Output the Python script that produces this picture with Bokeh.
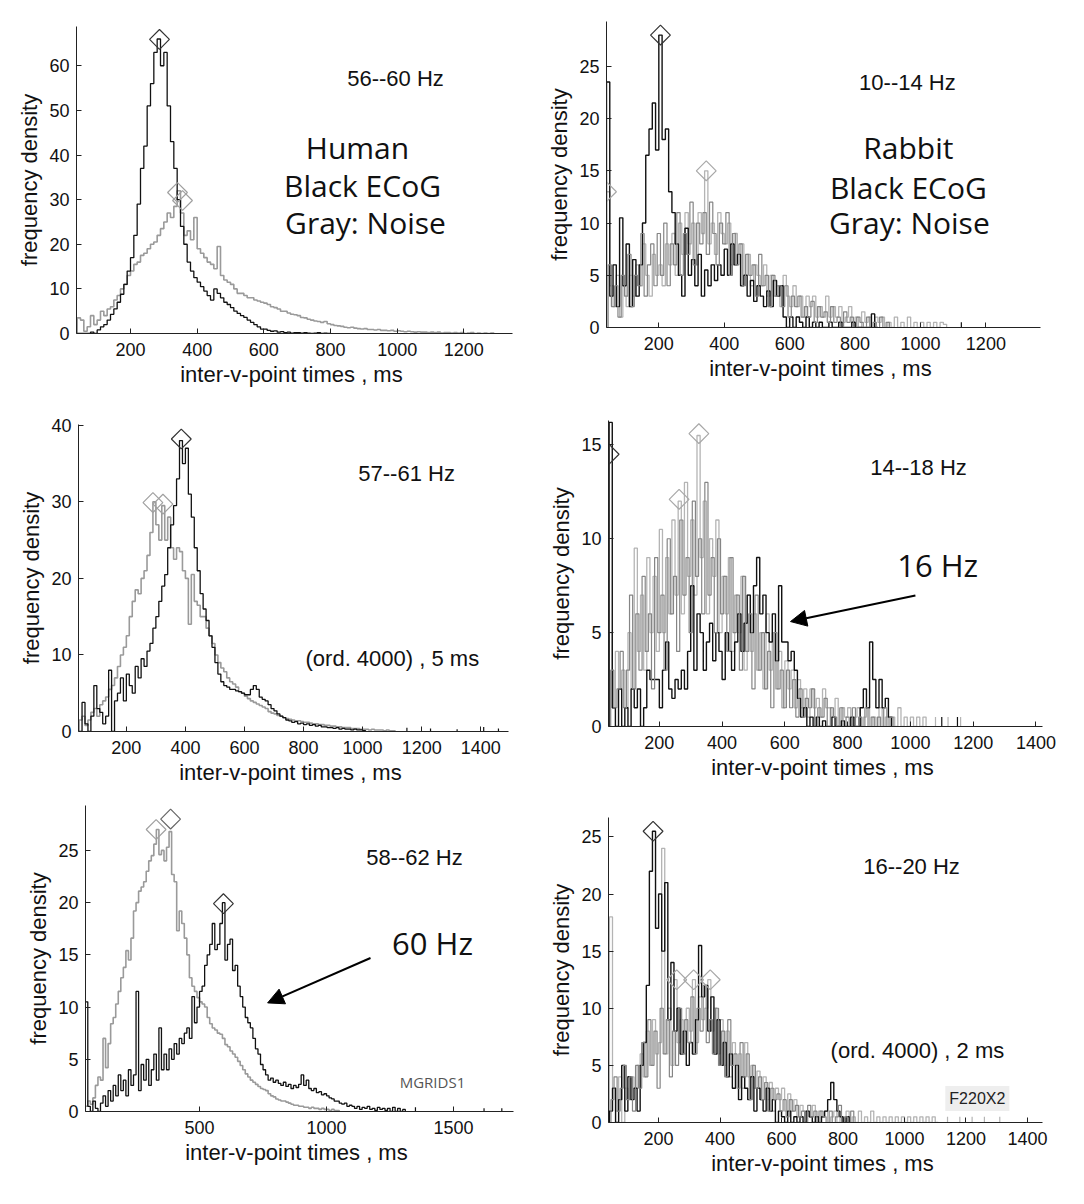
import numpy as np
from bokeh.plotting import figure
from bokeh.layouts import row, column
from bokeh.models import FixedTicker, Label, Arrow, NormalHead, Range1d
from bokeh.embed import file_html
from bokeh.resources import INLINE

BIN_MS = 10

# ---------------- Panel 1: Human 56--60 Hz ----------------
p1_start = 40
p1_black = [0, 0, 0, 0, 0.3, 0, 0.8, 1.5, 2, 3,
            4.3, 5.5, 7, 8.8, 11, 14, 17, 22, 29, 37,
            42, 51, 56, 63, 66, 60, 63, 51, 43, 37,
            30, 24, 20, 16, 14, 12.5, 11.5, 10.5, 9.5, 8.5,
            7.5, 10, 9, 8, 7, 6.5, 5.8, 5, 4.5, 4,
            3.6, 3, 2.5, 2, 1.5, 1, 1, 0.7, 0.5, 0.6,
            0.3, 0.4, 0.2, 0.3, 0.1, 0.2, 0.2, 0.1, 0.2, 0.1,
            0, 0.1, 0.2, 0, 0.1, 0]
p1_gray = [3.5, 3, 0.5, 1.5, 4, 2, 3, 5, 4, 5.5,
           6, 7.5, 8.5, 10, 11, 13, 14, 15.5, 16, 17.5,
           18, 19, 20, 20.5, 22, 23.5, 25, 27, 26, 28.5,
           32, 27, 22, 23, 21, 26, 19, 18, 17, 16,
           15.5, 14.5, 19.5, 13, 12, 11.5, 11, 10, 9, 9,
           8.5, 8, 8, 7.5, 7.3, 7, 6.8, 6.5, 6, 5.8,
           5.5, 5, 5, 4.6, 4.3, 4.2, 4, 3.6, 3.5, 3.2,
           3, 2.8, 2.7, 2.5, 2.7, 2.2, 2, 1.8, 1.7, 1.6,
           1.4, 1.3, 1.4, 1.2, 1.1, 1.0, 1.1, 0.9, 0.9, 0.8,
           0.9, 0.7, 0.7, 0.6, 0.7, 0.5, 0.6, 0.5, 0.4, 0.5,
           0.4, 0.3, 0.4, 0.3, 0.3, 0.2, 0.3, 0.2, 0.3, 0.1,
           0.2, 0.2, 0.1, 0.2, 0.1, 0.2, 0, 0.1, 0.2, 0,
           0.1, 0, 0.1, 0, 0.1]
p1_black_peak_x = [287]
p1_black_peak_y = [65.9]
p1_gray_peak_x = [341, 356]
p1_gray_peak_y = [31.6, 29.8]

# ---------------- Panel 2: Rabbit 10--14 Hz ----------------
p2_start = 40
p2_black = [23.5, 3, 6, 2, 10.5, 4, 8, 2, 6.5, 3,
            6, 10, 16.5, 19, 21.5, 17, 28, 18, 19, 13,
            11, 8, 5, 3, 9.5, 5, 6.5, 4, 7, 3,
            5.5, 4, 6, 4.5, 6, 5, 7.5, 5, 8, 6,
            7, 4, 5, 3, 4.5, 2.5, 4, 3, 2, 3.5,
            2, 4.5, 3, 4, 1, 0, 1, 0, 1, 0.5,
            0, 1, 0, 0.5, 0, 0.5, 0, 0, 0.5, 0,
            0, 0.5, 0, 0, 0, 0.5, 0, 0, 0, 0,
            0, 1.3, 0]
p2_gray = [13, 4, 2, 5, 1, 4, 2, 5, 3, 6,
           4, 8, 5, 3, 7, 5, 6, 4, 8, 6,
           9, 5, 10, 7, 11, 8, 10, 6, 11, 9,
           15, 8, 10, 7, 11, 9, 8, 10, 6, 9,
           7, 8, 5, 7, 4, 6, 5, 4, 6, 3,
           5, 3, 4, 2, 5, 3, 2, 4, 2, 3,
           1, 3, 2, 3, 1, 2, 1, 3, 1, 2,
           1, 2, 0.5, 1, 2, 0.5, 1, 0, 1.5, 0.5,
           1, 0, 1, 0.5, 1, 0, 0.5, 0, 1, 0,
           0.5, 0, 1, 0, 0.5, 0, 0.5, 0, 0.5, 0,
           0.5, 0, 0.5, 0.3]
p2_gray2_start = 45
p2_gray2 = [6, 2, 4, 1, 5, 3, 7, 2, 5, 4,
            9, 3, 6, 8, 4, 9, 5, 10, 4, 8,
            6, 11, 5, 9, 7, 12, 6, 10, 8, 11,
            7, 12, 9, 6, 10, 8, 11, 5, 9, 6,
            8, 4, 7, 5, 6, 3, 7, 4, 5, 2,
            5, 3, 4, 2, 4, 1, 3, 2, 3, 1,
            2, 1, 2.5, 0.5, 2, 1, 1.5, 0.5, 2, 0.5,
            1, 0, 1.5, 0.5, 1, 0, 1, 0.5, 0, 1,
            0, 0.5, 0, 1, 0, 0.5]
p2_black_spike_x = [1125]
p2_black_spike_y = [0.5]
p2_black_peak_x = [205]
p2_black_peak_y = [28]
p2_gray_peak_x = [40, 345]
p2_gray_peak_y = [13, 15]

# ---------------- Panel 3: Human 57--61 Hz ----------------
p3_start = 40
p3_black = [0, 3.8, 1, 0, 2, 6, 3, 2.5, 1, 2,
            8, 0, 4, 5, 7, 4, 7.5, 6, 5, 8.5,
            7, 9.5, 8.5, 10.5, 11.5, 13.5, 15, 17, 19, 20.5,
            24, 27, 29.5, 33, 38, 35, 37, 31, 28, 24,
            21, 18, 16, 14.5, 12.5, 11, 9, 7.5, 6.5, 6,
            5.8, 5.5, 5.5, 5.3, 5.2, 5, 4.8, 4.8, 5.5, 6,
            5.5, 4.5, 4.2, 4, 3.5, 3, 2.7, 2.3, 2, 1.8,
            1.5, 1.4, 1.2, 1.3, 1, 1.1, 0.9, 1, 0.8, 0.9,
            0.7, 0.8, 0.6, 0.6, 0.5, 0.5, 0.4, 0.5, 0.3, 0.4,
            0.3, 0.3, 0.2, 0.3, 0.2, 0.2, 0.1]
p3_gray = [1.5, 2, 0.8, 1.5, 2.5, 3, 2, 3.5, 4, 4.5,
           5.5, 6, 7, 8.5, 10, 11, 12.5, 15, 17, 18.5,
           18, 20, 21, 23, 26, 30, 27, 25, 29.5, 25,
           28, 24, 22.5, 24, 23.5, 21, 20, 14, 20.5, 17,
           16.5, 15, 15, 13.5, 12.5, 11.5, 10, 9, 8.3, 7.8,
           7, 6.5, 6.2, 5.8, 5.2, 5, 4.6, 4.3, 4, 3.8,
           3.6, 3.4, 3.2, 3, 2.6, 2.4, 2.3, 2.1, 2, 1.8,
           1.7, 1.6, 1.5, 1.4, 1.4, 1.3, 1.2, 1.2, 1.1, 1,
           1, 0.9, 0.9, 0.8, 0.8, 0.7, 0.7, 0.6, 0.6, 0.5,
           0.5, 0.5, 0.4, 0.4, 0.4, 0.3, 0.3, 0.3, 0.2, 0.3,
           0.2, 0.2, 0.2, 0.1, 0.2, 0.1, 0.1]
p3_black_spike_x = [1150, 1230, 1320, 1410, 1460]
p3_black_spike_y = [0.5, 0.4, 0.3, 0.6, 0.4]
p3_black_peak_x = [386]
p3_black_peak_y = [38.2]
p3_gray_peak_x = [290, 324]
p3_gray_peak_y = [29.9, 29.7]

# ---------------- Panel 4: Rabbit 14--18 Hz ----------------
p4_start = 40
p4_black = [16.2, 1, 0, 2, 0, 1, 0, 2, 1, 2,
            0, 1, 3, 2.5, 2.5, 2.5, 1, 3, 4.5, 2,
            1.5, 2.5, 2, 3, 2, 4, 7.5, 3, 6, 5,
            3, 4.5, 5.5, 3.5, 5, 4, 2.5, 5, 4, 3,
            4.5, 6, 4, 5.5, 7, 5, 7.5, 9, 6, 7,
            5, 4.5, 6, 3.5, 7.5, 4.5, 4.5, 3.5, 4, 3,
            1.5, 0.5, 1, 0, 0.5, 0, 0.5, 0, 0.3, 0,
            0, 0.5, 0, 0, 0.3, 0, 0, 0.5, 0, 0,
            1, 2, 1, 4.5, 2.5, 1, 2.5, 1, 1.5, 0.5]
p4_gray = [5, 1, 4, 2, 3, 1, 5, 2, 9.5, 4,
           7, 3, 9, 5, 8, 4, 10.5, 5, 9, 6,
           11, 7, 12, 6, 13, 8, 11, 7, 15.5, 9,
           12, 6, 10, 8, 11, 5, 8, 6, 9, 4,
           7, 5, 8, 3, 7, 4, 6, 3, 5, 2,
           6, 3, 5, 2, 4, 1, 3.5, 2, 3, 1,
           2.5, 1, 2, 0.5, 2, 1, 1.5, 0.5, 2, 1,
           1, 0.5, 1.5, 0, 1, 0.5, 1, 0, 0.5, 1,
           0, 0.5, 1, 0, 0.5, 0, 1, 0, 0.5, 0,
           0.5, 0, 1, 0, 0.5, 0, 0.5, 0, 0.5, 0,
           0.5]
p4_gray2_start = 45
p4_gray2 = [3, 1, 2, 4, 1, 3, 7, 2, 6, 3,
            8, 4, 6, 2, 9, 5, 7, 3, 10, 6,
            8, 4, 11, 7, 9, 5, 12, 8, 10, 6,
            13, 7, 9, 5, 10, 6, 8, 4, 9, 5,
            7, 3, 8, 4, 6, 2, 7, 3, 5, 2,
            4, 1, 5, 2, 3, 1, 3, 1, 2.5, 0.5,
            2, 0.5, 1.5, 1, 2, 0, 1, 0.5, 1.5, 0,
            1, 0.5, 0, 1, 0, 0.5, 0, 1, 0, 0.5,
            0, 1, 0, 0.5, 0, 0.5, 0, 1, 0, 0.5]
p4_black_spike_x = [1100, 1150]
p4_black_spike_y = [0.5, 0.5]
p4_gray_spike_x = [1080, 1120, 1160]
p4_gray_spike_y = [0.5, 0.5, 0.5]
p4_black_peak_x = [40]
p4_black_peak_y = [14.5]
p4_gray_peak_x = [263, 326]
p4_gray_peak_y = [12.1, 15.6]

# ---------------- Panel 5: Human 58--62 Hz ----------------
p5_start = 50
p5_black = [10.5, 0.5, 0, 1, 0.3, 0, 0.8, 1.5, 0.5, 2,
            1, 2.5, 1.5, 3.5, 2, 3, 1.5, 4, 2.5, 3.5,
            11.5, 2, 4.5, 3, 5, 2.5, 4, 5.5, 3, 8,
            4, 5.5, 4, 6, 5, 6.5, 5.5, 7, 6.5, 7.5,
            8, 7, 11, 8.5, 10, 11.5, 12, 14, 15, 16,
            18, 15.5, 16, 18, 20, 14.5, 16, 16.5, 13.5, 14,
            12, 11, 10, 9, 8.5, 8, 7, 6, 5.5, 4.5,
            4, 3.5, 3, 3.2, 2.8, 3, 2.7, 2.5, 2.8, 2.4,
            2.6, 2.2, 2.5, 2.3, 2.6, 3.5, 2.5, 3, 2.2, 2,
            2.2, 1.8, 1.9, 1.6, 1.7, 1.5, 1.3, 1.2, 1.0, 1,
            0.8, 0.7, 0.8, 0.5, 0.6, 0.5, 0.3, 0.5, 0.2, 0.4,
            0.3, 0.5, 0.2, 0.3, 0.1, 0.4, 0.2, 0.3, 0.1, 0.3,
            0, 0.4, 0, 0.3, 0, 0.2]
p5_gray = [0.5, 1, 0.7, 1.3, 2.5, 3.3, 3, 7, 4.2, 6.5,
           8.4, 9, 10.3, 11.5, 12.8, 13.8, 15.4, 14.5, 16.6, 19.2,
           20, 21.1, 21.5, 22, 23, 24, 24.5, 25.6, 27, 24.6,
           25, 24, 25.3, 26.8, 22.7, 22, 17.3, 19.2, 18, 16.6,
           15, 12.8, 12, 11.5, 10.9, 10.5, 10.3, 10, 9, 8.4,
           8, 7.8, 7.5, 7.4, 7, 6.4, 6.2, 5.8, 5.5, 5.2,
           4.8, 4.4, 4, 3.6, 3.3, 3, 2.8, 2.6, 2.4, 2.2,
           2.1, 2, 1.7, 1.5, 1.4, 1.2, 1.1, 1, 1, 0.9,
           0.8, 0.7, 0.6, 0.6, 0.5, 0.5, 0.4, 0.4, 0.3, 0.4,
           0.3, 0.3, 0.2, 0.3, 0.2, 0.2, 0.1, 0.2, 0.1, 0.1]
p5_black_spike_x = [1350, 1620, 1690]
p5_black_spike_y = [0.4, 0.3, 0.3]
p5_black_peak_x = [594]
p5_black_peak_y = [19.9]
p5_gray_peak_x = [329]
p5_gray_peak_y = [27.0]
p5_dark_peak_x = [386]
p5_dark_peak_y = [28.0]

# ---------------- Panel 6: Rabbit 16--20 Hz ----------------
p6_start = 40
p6_black = [1, 3, 0, 2, 5, 1, 4, 2, 3, 1,
            5, 7, 12, 22, 25.5, 17, 20, 15, 21, 9,
            14, 8, 10, 6, 8, 5, 7, 6, 9, 15.5,
            11, 12, 8, 11, 6, 9, 5, 7, 4, 6,
            3, 5, 2, 4, 3, 2, 4, 1, 3, 2,
            1, 3, 1, 2, 0, 1, 0.5, 0, 1, 0,
            0.5, 0, 0.5, 0, 1, 0.5, 0, 0.5, 0, 0.5,
            1, 2, 3.5, 2, 1, 0.5, 0, 0.5]
p6_gray = [18, 3, 1, 4, 0, 3, 2, 4, 3, 5,
           6, 4, 8, 5, 9, 6, 7, 24, 6, 10,
           5, 12.5, 7, 9, 6, 10, 8, 12.5, 7, 11,
           9, 10, 12.5, 8, 10, 6, 9, 5, 8, 4,
           7, 5, 6, 3, 7, 4, 5, 3, 4.5, 2,
           4, 2, 3.5, 1, 3, 2, 3, 1, 2.5, 1,
           2, 0.5, 1.5, 1, 1, 0.5, 1.5, 0, 1, 0.5,
           1, 0, 0.5, 1, 0, 0.5, 0, 1, 0, 0.5,
           0, 1, 0, 0.5, 0, 1, 0, 0.5, 0, 0.5,
           0, 0.5, 0, 0.5, 0, 0.5, 0, 0.5, 0, 0.5,
           0, 0.5, 0, 0.5, 0, 0.5, 0]
p6_gray2_start = 45
p6_gray2 = [2, 4, 1, 3, 5, 2, 4, 1, 5, 3,
            7, 4, 9, 5, 8, 3, 10, 6, 9, 4,
            8, 5, 10, 6, 9, 7, 11, 6, 10, 8,
            12, 7, 9, 6, 10, 5, 8, 4, 9, 5,
            6, 3, 7, 4, 6, 2, 5, 3, 4, 2,
            3.5, 1, 3, 2, 2.5, 1, 2, 0.5, 2, 1,
            1.5, 0.5, 1, 0, 1.5, 0.5, 1, 0, 1, 0.5,
            0, 1, 0, 0.5, 1.5, 0, 0.5, 0, 1, 0]
p6_gray_spike_x = [1140, 1180, 1220, 1260, 1310]
p6_gray_spike_y = [0.5, 0.5, 0.5, 0.5, 0.5]
p6_black_peak_x = [182]
p6_black_peak_y = [25.5]
p6_gray_peak_x = [259, 314, 368]
p6_gray_peak_y = [12.5, 12.5, 12.5]

# tick labels
ticks_x_1200 = [200, 400, 600, 800, 1000, 1200]
ticks_x_1400 = [200, 400, 600, 800, 1000, 1200, 1400]
ticks_x_500 = [500, 1000, 1500]
ticks_y_60 = [0, 10, 20, 30, 40, 50, 60]
ticks_y_40 = [0, 10, 20, 30, 40]
ticks_y_25 = [0, 5, 10, 15, 20, 25]
ticks_y_15 = [0, 5, 10, 15]

XLABEL = "inter-v-point times ,  ms"
YLABEL = "frequency density"

BLACK = "#111111"
GRAY_H = "#9a9a9a"
GRAY_LIGHT = "#b4b4b4"
GRAY_MID = "#858585"
TICK_FONT = "Liberation Sans"
BIG_FONT = "Open Sans"


def step_xy(start, vals):
    v = np.asarray(vals, dtype=float)
    edges = start + BIN_MS * np.arange(len(v) + 1)
    xs = np.concatenate([[edges[0]], np.repeat(edges, 2)[1:-1], [edges[-1]]])
    ys = np.concatenate([[0.0], np.repeat(v, 2), [0.0]])
    return xs, ys


def make_panel(w, h, bl, br, bt, bb, xr, yr, xt, yt):
    p = figure(width=w, height=h, x_range=Range1d(*xr), y_range=Range1d(*yr),
               output_backend="svg", toolbar_location=None,
               min_border_left=bl, min_border_right=br,
               min_border_top=bt, min_border_bottom=bb)
    p.frame_align = False
    p.grid.visible = False
    p.outline_line_color = None
    p.background_fill_color = "white"
    p.border_fill_color = "white"
    p.xaxis.ticker = FixedTicker(ticks=xt)
    p.yaxis.ticker = FixedTicker(ticks=yt)
    for ax in (p.xaxis[0], p.yaxis[0]):
        ax.axis_line_color = "#222222"
        ax.axis_line_width = 1
        ax.major_tick_in = 5
        ax.major_tick_out = 0
        ax.major_tick_line_color = "#222222"
        ax.minor_tick_line_color = None
        ax.major_label_text_font = TICK_FONT
        ax.major_label_text_font_size = "18px"
        ax.major_label_text_color = BLACK
        ax.axis_label_text_font = TICK_FONT
        ax.axis_label_text_font_size = "22px"
        ax.axis_label_text_font_style = "normal"
        ax.axis_label_text_color = BLACK
    p.xaxis.axis_label = XLABEL
    p.yaxis.axis_label = YLABEL
    p.xaxis.major_label_standoff = 9
    p.yaxis.major_label_standoff = 7
    p.xaxis.axis_label_standoff = 3
    p.yaxis.axis_label_standoff = 4
    return p


def draw_line(p, start, vals, color, width=1.3):
    xs, ys = step_xy(start, vals)
    p.line(xs, ys, line_color=color, line_width=width)


def draw_spikes(p, xs, ys, color):
    p.segment(x0=xs, y0=[0] * len(xs), x1=xs, y1=ys, line_color=color, line_width=1.2)


def draw_peaks(p, xs, ys, color):
    p.scatter(xs, ys, marker="square", angle=np.pi / 4, size=14,
              fill_color=None, line_color=color, line_width=1.2)


def add_text(p, x, y, text, size, font=TICK_FONT, color=BLACK, bg=None):
    lab = Label(x=x, y=y, text=text, text_align="center", text_baseline="middle",
                text_font=font, text_font_size=f"{size}px", text_color=color)
    if bg is not None:
        lab.background_fill_color = bg
        lab.padding = 4
    p.add_layout(lab)


def add_arrow(p, x0, y0, x1, y1):
    p.add_layout(Arrow(end=NormalHead(size=16, fill_color="black", line_color="black"),
                       x_start=x0, y_start=y0, x_end=x1, y_end=y1,
                       line_color="black", line_width=2))


# ---- panel 1 ----
p1 = make_panel(540, 390, 76, 28, 26, 57, (38, 1346), (0, 68.8), ticks_x_1200, ticks_y_60)
draw_line(p1, p1_start, p1_gray, GRAY_H, 1.6)
draw_line(p1, p1_start, p1_black, BLACK)
draw_peaks(p1, p1_gray_peak_x, p1_gray_peak_y, "#a0a0a0")
draw_peaks(p1, p1_black_peak_x, p1_black_peak_y, "#333333")
add_text(p1, 995, 57.1, "56--60 Hz", 22)
add_text(p1, 881, 41.7, "Human", 30, BIG_FONT)
add_text(p1, 896, 33.2, "Black ECoG", 30, BIG_FONT)
add_text(p1, 905, 24.9, "Gray: Noise", 30, BIG_FONT)

# ---- panel 2 ----
p2 = make_panel(544, 390, 66, 44, 21, 63, (40, 1367), (0, 29.3), ticks_x_1200, ticks_y_25)
draw_line(p2, p2_start, p2_gray, GRAY_LIGHT, 1.3)
draw_line(p2, p2_start, p2_black, BLACK, 1.4)
draw_line(p2, p2_gray2_start, p2_gray2, GRAY_MID, 1.2)
draw_spikes(p2, p2_black_spike_x, p2_black_spike_y, BLACK)
draw_peaks(p2, p2_gray_peak_x, p2_gray_peak_y, "#a8a8a8")
draw_peaks(p2, p2_black_peak_x, p2_black_peak_y, "#333333")
add_text(p2, 960, 23.5, "10--14 Hz", 22)
add_text(p2, 963, 17.2, "Rabbit", 30, BIG_FONT)
add_text(p2, 963, 13.4, "Black ECoG", 30, BIG_FONT)
add_text(p2, 966, 10.05, "Gray: Noise", 30, BIG_FONT)

# ---- panel 3 ----
p3 = make_panel(540, 400, 78, 32, 34, 59, (38, 1494), (0, 40.1), ticks_x_1400, ticks_y_40)
draw_line(p3, p3_start, p3_gray, GRAY_H, 1.6)
draw_line(p3, p3_start, p3_black, BLACK)
draw_spikes(p3, p3_black_spike_x, p3_black_spike_y, BLACK)
draw_peaks(p3, p3_gray_peak_x, p3_gray_peak_y, "#a0a0a0")
draw_peaks(p3, p3_black_peak_x, p3_black_peak_y, "#333333")
add_text(p3, 1149, 33.7, "57--61 Hz", 22)
add_text(p3, 1111, 9.5, "(ord. 4000)  , 5 ms", 22)

# ---- panel 4 ----
p4 = make_panel(544, 400, 68, 42, 30, 64, (38, 1421), (0, 16.3), ticks_x_1400, ticks_y_15)
draw_line(p4, p4_start, p4_gray, GRAY_LIGHT, 1.3)
draw_line(p4, p4_start, p4_black, BLACK, 1.4)
draw_line(p4, p4_gray2_start, p4_gray2, GRAY_MID, 1.2)
draw_spikes(p4, p4_black_spike_x, p4_black_spike_y, BLACK)
draw_spikes(p4, p4_gray_spike_x, p4_gray_spike_y, GRAY_LIGHT)
draw_peaks(p4, p4_gray_peak_x, p4_gray_peak_y, "#a8a8a8")
draw_peaks(p4, p4_black_peak_x, p4_black_peak_y, "#333333")
add_text(p4, 1026, 13.8, "14--18 Hz", 22)
add_text(p4, 1087, 8.58, "16 Hz", 31, BIG_FONT)
add_arrow(p4, 1016, 6.98, 618, 5.59)

# ---- panel 5 ----
p5 = make_panel(540, 414, 85, 27, 15, 93, (51, 1736), (0, 29.3), ticks_x_500, ticks_y_25)
draw_line(p5, p5_start, p5_gray, GRAY_H, 1.6)
draw_line(p5, p5_start, p5_black, BLACK)
draw_spikes(p5, p5_black_spike_x, p5_black_spike_y, BLACK)
draw_peaks(p5, p5_gray_peak_x, p5_gray_peak_y, "#a0a0a0")
draw_peaks(p5, p5_dark_peak_x, p5_dark_peak_y, "#666666")
draw_peaks(p5, p5_black_peak_x, p5_black_peak_y, "#333333")
add_text(p5, 1346, 24.3, "58--62 Hz", 22)
add_text(p5, 1417, 16.1, "60 Hz", 31, BIG_FONT)
add_text(p5, 1417, 2.8, "MGRIDS1", 15, BIG_FONT, color="#555555")
add_arrow(p5, 1173, 14.7, 768, 10.4)

# ---- panel 6 ----
p6 = make_panel(544, 414, 68, 42, 27, 82, (37, 1449), (0, 26.7), ticks_x_1400, ticks_y_25)
draw_line(p6, p6_start, p6_gray, GRAY_LIGHT, 1.3)
draw_line(p6, p6_start, p6_black, BLACK, 1.4)
draw_line(p6, p6_gray2_start, p6_gray2, GRAY_MID, 1.2)
draw_spikes(p6, p6_gray_spike_x, p6_gray_spike_y, GRAY_LIGHT)
draw_peaks(p6, p6_gray_peak_x, p6_gray_peak_y, "#a8a8a8")
draw_peaks(p6, p6_black_peak_x, p6_black_peak_y, "#333333")
add_text(p6, 1023, 22.4, "16--20 Hz", 22)
add_text(p6, 1052, 6.3, "(ord. 4000)  , 2 ms", 22)
add_text(p6, 1237, 2.1, "F220X2", 16, color="#222222", bg="#eeeeee")

layout = column(row(p1, p2), row(p3, p4), row(p5, p6))
open("out.html", "w").write(file_html(layout, INLINE))
